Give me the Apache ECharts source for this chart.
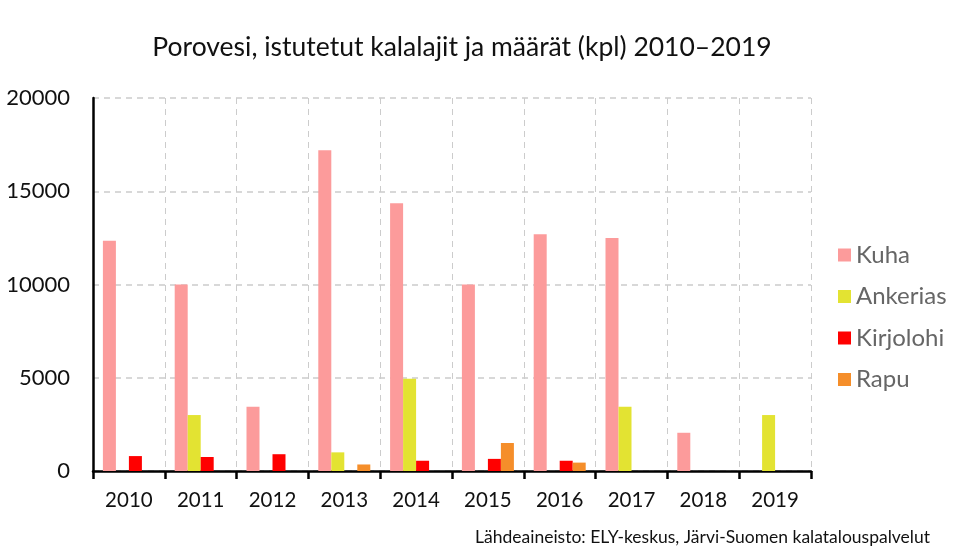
<!DOCTYPE html>
<html>
<head>
<meta charset="utf-8">
<script src="https://cdn.jsdelivr.net/npm/echarts@6/dist/echarts.min.js"></script>
<style>
  html, body { margin: 0; padding: 0; background: #fff; }
  #chart { width: 954px; height: 557px; }
</style>
</head>
<body>
<div id="chart"></div>
<script>
// istutukset vuosittain (kpl)
var years = ['2010', '2011', '2012', '2013', '2014', '2015', '2016', '2017', '2018', '2019'];
var kuha = [12350, 10000, 3450, 17200, 14350, 10000, 12700, 12500, 2050, 0];
var ankerias = [0, 3000, 0, 1000, 4950, 0, 0, 3450, 0, 3000];
var kirjolohi = [800, 750, 900, 0, 550, 650, 550, 0, 0, 0];
var rapu = [0, 0, 0, 350, 0, 1500, 450, 0, 0, 0];

var seriesNames = ['Kuha', 'Ankerias', 'Kirjolohi', 'Rapu'];
var seriesColors = ['#fc9b9b', '#e3e332', '#ff0000', '#f58e2a'];
var seriesData = [kuha, ankerias, kirjolohi, rapu];

var fontName = 'Lato';

function barSeries(i) {
    return {
        name: seriesNames[i],
        type: 'bar',
        barWidth: 13,
        barGap: '0%',
        itemStyle: { color: seriesColors[i] },
        data: seriesData[i]
    };
}

var myChart = echarts.init(document.getElementById('chart'));
var option = {
    backgroundColor: '#fff',
    animation: false,
    textStyle: { fontFamily: fontName },
    title: {
        text: 'Porovesi, istutetut kalalajit ja määrät (kpl) 2010–2019',
        left: 457,
        top: 29,
        textAlign: 'center',
        textStyle: { fontSize: 26.5, fontWeight: 'normal', color: '#111', fontFamily: fontName }
    },
    legend: {
        orient: 'vertical',
        left: 833,
        top: 238,
        itemWidth: 13,
        itemHeight: 13,
        itemGap: 17.5,
        icon: 'rect',
        textStyle: { fontSize: 24, color: '#666', fontFamily: fontName },
        data: seriesNames
    },
    graphic: [{
        type: 'text',
        right: 24,
        top: 528,
        style: {
            text: 'Lähdeaineisto: ELY-keskus, Järvi-Suomen kalatalouspalvelut',
            fontSize: 17.5,
            fill: '#111',
            fontFamily: fontName
        }
    }],
    grid: { left: 93, right: 143, top: 98, bottom: 86 },
    xAxis: {
        type: 'category',
        data: years,
        axisLine: { lineStyle: { color: '#000', width: 2.5 } },
        axisTick: { show: true, length: 8, lineStyle: { color: '#000', width: 2.5 } },
        axisLabel: { fontSize: 20.5, color: '#111', margin: 19 },
        splitLine: { show: true, interval: 0, lineStyle: { color: '#ccc', type: [6, 5], width: 1 } }
    },
    yAxis: {
        type: 'value',
        min: 0,
        max: 20000,
        interval: 5000,
        axisLine: { show: true, lineStyle: { color: '#000', width: 2.5 } },
        axisTick: { show: false },
        axisLabel: {
            fontSize: 22,
            color: '#111',
            margin: 23,
            formatter: function (v) { return String(v); }
        },
        splitLine: { lineStyle: { color: '#ccc', type: [6, 5], width: 1.5 } }
    },
    series: [barSeries(0), barSeries(1), barSeries(2), barSeries(3)]
};
myChart.setOption(option);
</script>
</body>
</html>
